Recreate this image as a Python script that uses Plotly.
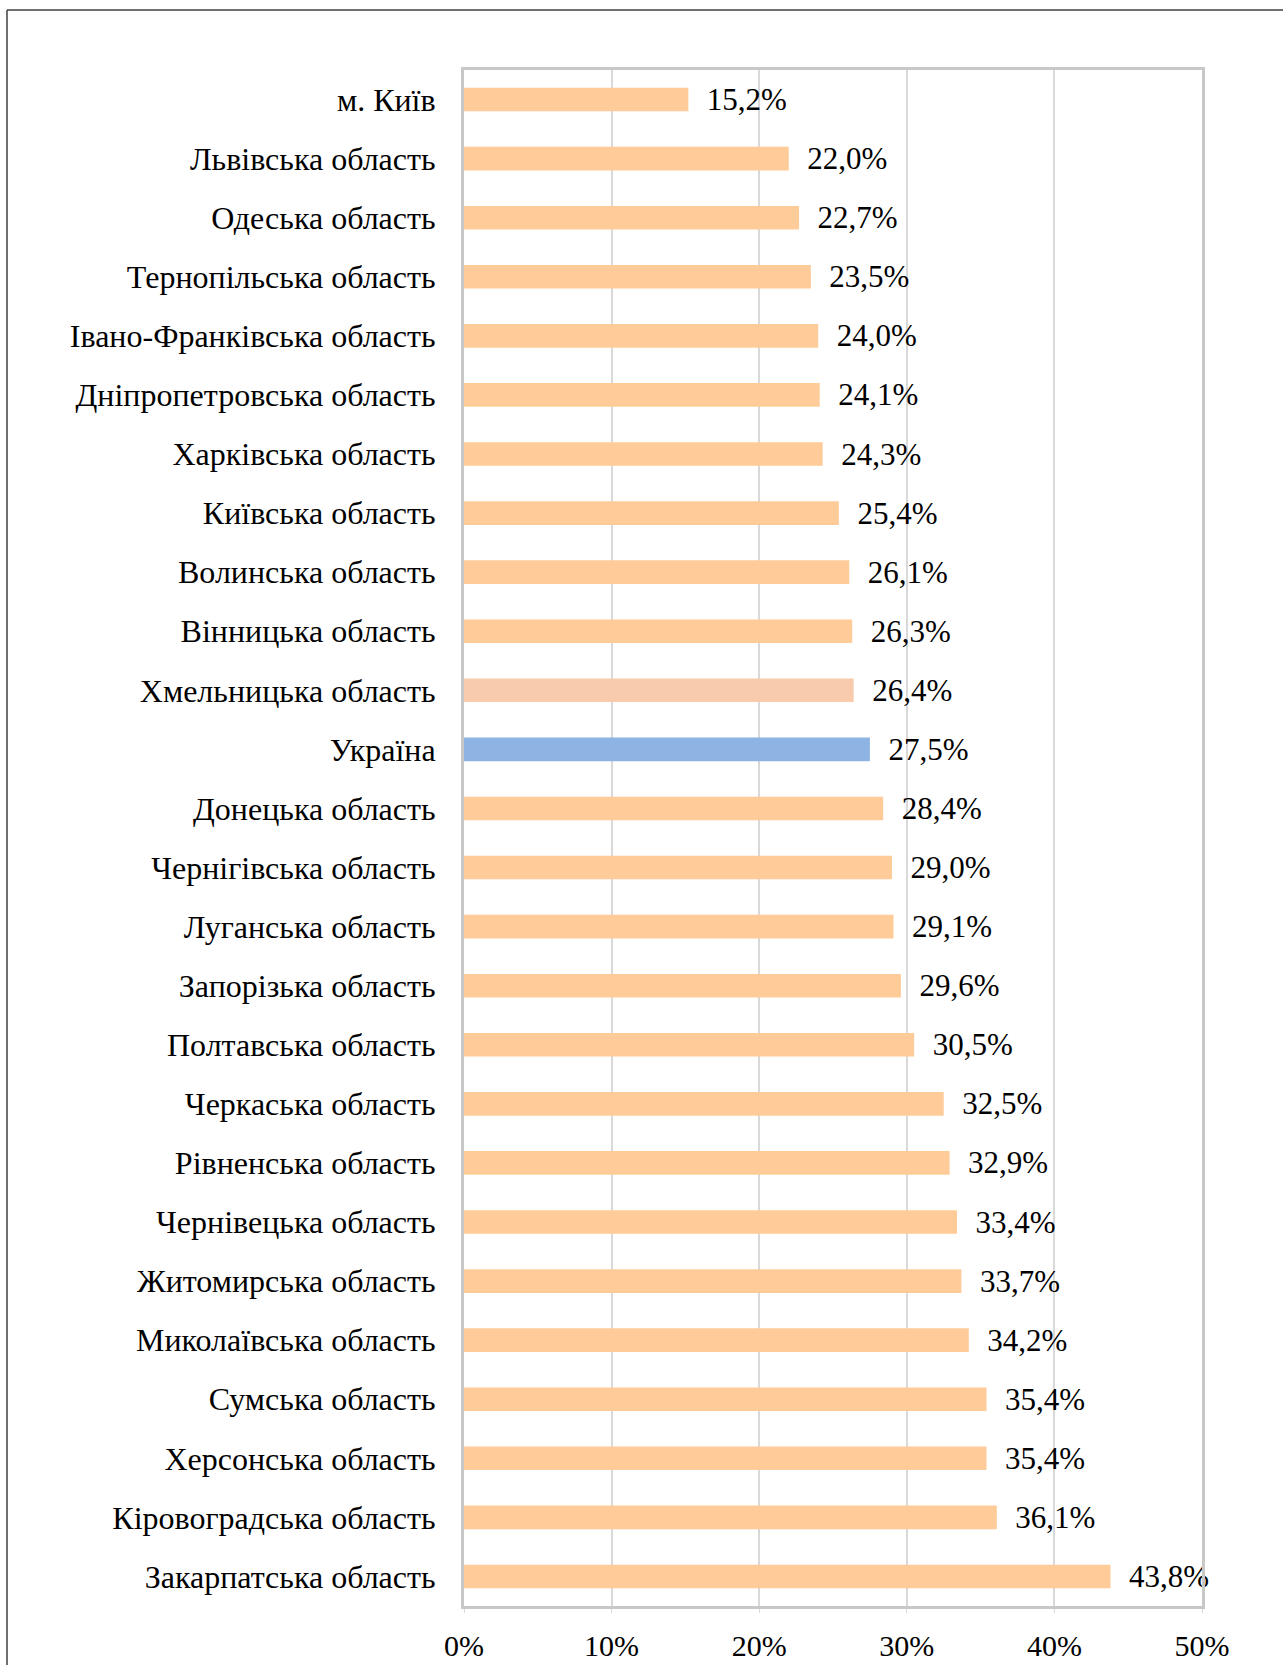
import plotly.graph_objects as go

regions = [
    "м. Київ", "Львівська область", "Одеська область", "Тернопільська область",
    "Івано-Франківська область", "Дніпропетровська область", "Харківська область",
    "Київська область", "Волинська область", "Вінницька область",
    "Хмельницька область", "Україна", "Донецька область", "Чернігівська область",
    "Луганська область", "Запорізька область", "Полтавська область",
    "Черкаська область", "Рівненська область", "Чернівецька область",
    "Житомирська область", "Миколаївська область", "Сумська область",
    "Херсонська область", "Кіровоградська область", "Закарпатська область",
]
values = [15.2, 22.0, 22.7, 23.5, 24.0, 24.1, 24.3, 25.4, 26.1, 26.3, 26.4, 27.5,
          28.4, 29.0, 29.1, 29.6, 30.5, 32.5, 32.9, 33.4, 33.7, 34.2, 35.4, 35.4,
          36.1, 43.8]
x_ticks = [0, 10, 20, 30, 40, 50]

colors = []
for r in regions:
    if r == "Україна":
        colors.append("#8EB4E3")
    elif r == "Хмельницька область":
        colors.append("#F8CBAD")
    else:
        colors.append("#FFCC99")

W, H = 1283, 1665
L, R, T, B = 464, 1202, 70, 1606
FONT = "Liberation Serif, Times New Roman, serif"

fig = go.Figure(go.Bar(
    y=regions, x=values, orientation="h",
    marker=dict(color=colors, line=dict(width=0)),
    width=0.4,
    text=["  " + f"{v:.1f}".replace(".", ",") + "%" for v in values],
    textposition="outside",
    constraintext="none",
    textfont=dict(family=FONT, size=31, color="black"),
    cliponaxis=False,
))

fig.update_layout(
    width=W, height=H,
    margin=dict(l=L, r=W - R, t=T, b=H - B, pad=0, autoexpand=False),
    paper_bgcolor="white", plot_bgcolor="white",
    font=dict(family=FONT, size=30, color="black"),
    showlegend=False,
    bargap=0.6,
)
fig.update_yaxes(
    autorange="reversed", showgrid=False, ticks="", ticklabelstandoff=19,
    showline=True, linecolor="#C8C8C8", linewidth=3, mirror=True,
    tickfont=dict(family=FONT, size=32, color="black"),
    automargin=False,
)
fig.update_xaxes(
    range=[0, 50], tickvals=x_ticks, ticktext=[f"{t}%" for t in x_ticks],
    showgrid=True, gridcolor="#D9D9D9", gridwidth=1.5,
    showline=True, linecolor="#C8C8C8", linewidth=3, mirror=True,
    ticks="outside", ticklen=4, tickcolor="#D9D9D9", ticklabelstandoff=7,
    tickfont=dict(family=FONT, size=30, color="black"),
    zeroline=False, automargin=False,
)

# outer chart border (extends beyond the image on right and bottom)
def px(x):
    return (x - L) / (R - L)

def py(y):
    return (B - y) / (B - T)

fig.add_shape(type="line", xref="paper", yref="paper",
              x0=px(7), x1=px(W + 20), y0=py(10), y1=py(10),
              line=dict(color="#404040", width=1.5))
fig.add_shape(type="line", xref="paper", yref="paper",
              x0=px(7), x1=px(7), y0=py(10), y1=py(H + 20),
              line=dict(color="#404040", width=1.5))

fig.write_html("out.html", config={"displayModeBar": False},
               post_script="document.body.style.margin='0';")
